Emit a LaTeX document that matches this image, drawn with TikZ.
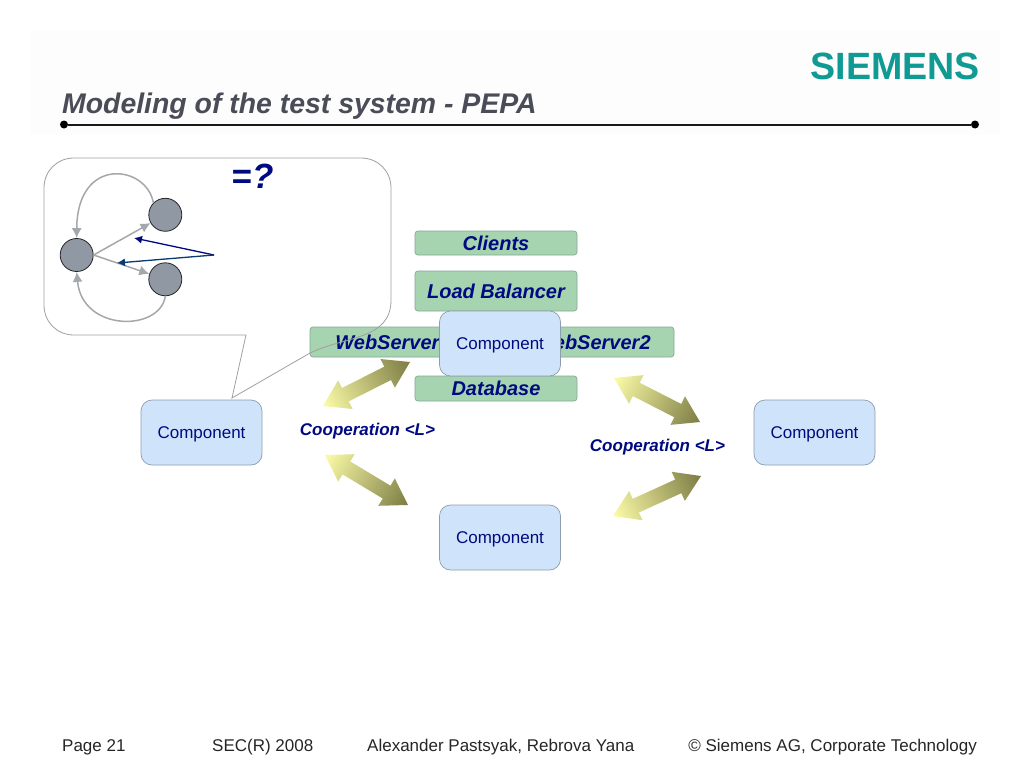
\documentclass[tikz,border=0pt]{standalone}
\usepackage{fontspec}
\setmainfont{Liberation Sans}
\usetikzlibrary{arrows.meta}
\definecolor{navyt}{HTML}{000A80}
\definecolor{teal1}{HTML}{109A94}
\definecolor{titleg}{HTML}{4A4D57}
\definecolor{greenf}{HTML}{A6D4B0}
\definecolor{greend}{HTML}{85A896}
\definecolor{compf}{HTML}{CFE4FB}
\definecolor{compd}{HTML}{8C9DAE}
\definecolor{circf}{HTML}{8F98A3}
\definecolor{greya}{HTML}{A4A8AC}
\definecolor{callout}{HTML}{A0A0A0}
\definecolor{yel}{HTML}{FCFCA8}
\definecolor{olv}{HTML}{7C7C44}
\definecolor{navyb}{HTML}{0A3A72}
\newcommand{\fsz}[1]{\fontsize{#1}{#1}\selectfont}
\newcommand{\comptext}{\raisebox{-6pt}[0pt][0pt]{Component}}
\newcommand{\dblarrow}[4]{%
  \pgfmathsetmacro{\arang}{atan2(-(#4-#2),#3-#1)}%
  \pgfmathsetmacro{\arlen}{veclen(#3-#1,#4-#2)}%
  \begin{scope}[transform canvas={shift={(#1,#2)},rotate=\arang}]
    \shade[left color=yel,right color=olv]
      (0,0) -- (25,16) -- (25,7.5) -- (\arlen-25,7.5) -- (\arlen-25,16) -- (\arlen,0)
      -- (\arlen-25,-16) -- (\arlen-25,-7.5) -- (25,-7.5) -- (25,-16) -- cycle;
  \end{scope}}
\tikzset{
  greenbox/.style={draw=greend,fill=greenf,rounded corners=3pt,line width=0.7pt,inner sep=0pt,
    text=navyt,font=\fsz{20}\bfseries\itshape,minimum height=#1},
  compbox/.style={draw=compd,fill=compf,rounded corners=11pt,line width=0.7pt,inner sep=0pt,
    minimum width=121pt,minimum height=65pt,text=navyt,font=\fsz{17}},
  state/.style={circle,draw=black!85,fill=circf,line width=0.8pt,minimum size=33pt,inner sep=0pt},
  grayarrow/.style={draw=greya,line width=1.5pt,-{Latex[length=10pt,width=10pt]}},
  navyarrow/.style={line width=1.3pt,-{Latex[length=8pt,width=8pt]}},
  coop/.style={text=navyt,font=\fsz{17}\bfseries\itshape,inner sep=0pt},
  foot/.style={text=black!85,font=\fsz{17},inner sep=0pt}
}
\begin{document}
\begin{tikzpicture}[x=1pt,y=-1pt]
\useasboundingbox (0,0) rectangle (1024,768);
\fill[white] (0,0) rectangle (1024,768);
\fill[black!0.8] (30,30) rectangle (1000,135);
% header
\node[anchor=east,text=teal1,inner sep=0pt] (logo) at (980,66.5) {\fsz{38}\bfseries\scalebox{0.99}[1]{SIEMENS}};
\node[anchor=west,text=titleg,inner sep=0pt,font=\fsz{28.4}\bfseries\itshape] (title) at (62,106.5) {Modeling of the test system - PEPA};
\node[circle,fill=black,inner sep=0pt,minimum size=8pt] (dotl) at (64,124.5) {};
\node[circle,fill=black,inner sep=0pt,minimum size=8pt] (dotr) at (975,124.5) {};
\draw[line width=2pt,black!90] (dotl) -- (dotr);
% callout fill
\def\calloutpath{(74,158) -- (361,158) .. controls (378,158) and (391,171) .. (391,188)
  -- (391,300) .. controls (391,340) and (345,336) .. (310,353) -- (232,398) -- (246,335)
  -- (74,335) .. controls (57,335) and (44,322) .. (44,305) -- (44,188)
  .. controls (44,171) and (57,158) .. (74,158) -- cycle}
\fill[white] \calloutpath;
% green boxes
\node[greenbox=24pt,minimum width=162pt] (clients) at (496,243) {Clients};
\node[greenbox=40pt,minimum width=162pt] (lb) at (496,291) {Load Balancer};
\node[greenbox=30pt,minimum width=166pt] (ws1) at (393,342) {WebServer1};
\node[greenbox=30pt,minimum width=164pt] (ws2) at (592,342) {\hspace{2pt}WebServer2};
\node[greenbox=25pt,minimum width=162pt] (db) at (496,388.5) {Database};
\draw[callout,line width=0.8pt] \calloutpath;
% components
\node[compbox] (compc) at (500,343.5) {\comptext};
\node[compbox] (compl) at (201.5,432.5) {\comptext};
\node[compbox] (compr) at (814.5,432.5) {\comptext};
\node[compbox] (compb) at (500,537.5) {\comptext};
% block arrows
\dblarrow{323}{406}{410}{362}
\dblarrow{325}{455}{408}{505}
\dblarrow{614}{378}{700}{422}
\dblarrow{613}{516}{701}{476}
\node[coop] (coopl) at (367.5,431) {Cooperation <L>};
\node[coop] (coopr) at (657.5,447) {Cooperation <L>};
% state graph
\node[state] (s1) at (76.7,255) {};
\node[state] (s2) at (165.3,214.8) {};
\node[state] (s3) at (165.3,279.3) {};
\draw[grayarrow] (s1.east) -- (s2);
\draw[grayarrow] (s1.east) -- (s3);
\draw[grayarrow] (s2.north west) .. controls (147,165) and (77,155) .. (s1.north);
\draw[grayarrow] (s3.south) .. controls (160,332) and (82,332) .. (s1.south);
\coordinate (fork) at (214,255);
\coordinate (t1) at (134,238);
\coordinate (t2) at (117,263);
\draw[navyarrow,draw=navyt,fill=navyt] (fork) -- (t1);
\draw[navyarrow,draw=navyb,fill=navyb] (fork) -- (t2);
\node[text=navyt,inner sep=0pt,font=\fsz{35}\bfseries\itshape] (eq) at (252.5,176) {=?};
% footer
\node[foot,anchor=west] (f1) at (62,747) {Page 21};
\node[foot,anchor=west] (f2) at (212,747) {SEC(R) 2008};
\node[foot,anchor=west] (f3) at (367,747) {Alexander Pastsyak, Rebrova Yana};
\node[foot,anchor=east] (f4) at (977,747) {© Siemens AG, Corporate Technology};
\end{tikzpicture}
\end{document}
